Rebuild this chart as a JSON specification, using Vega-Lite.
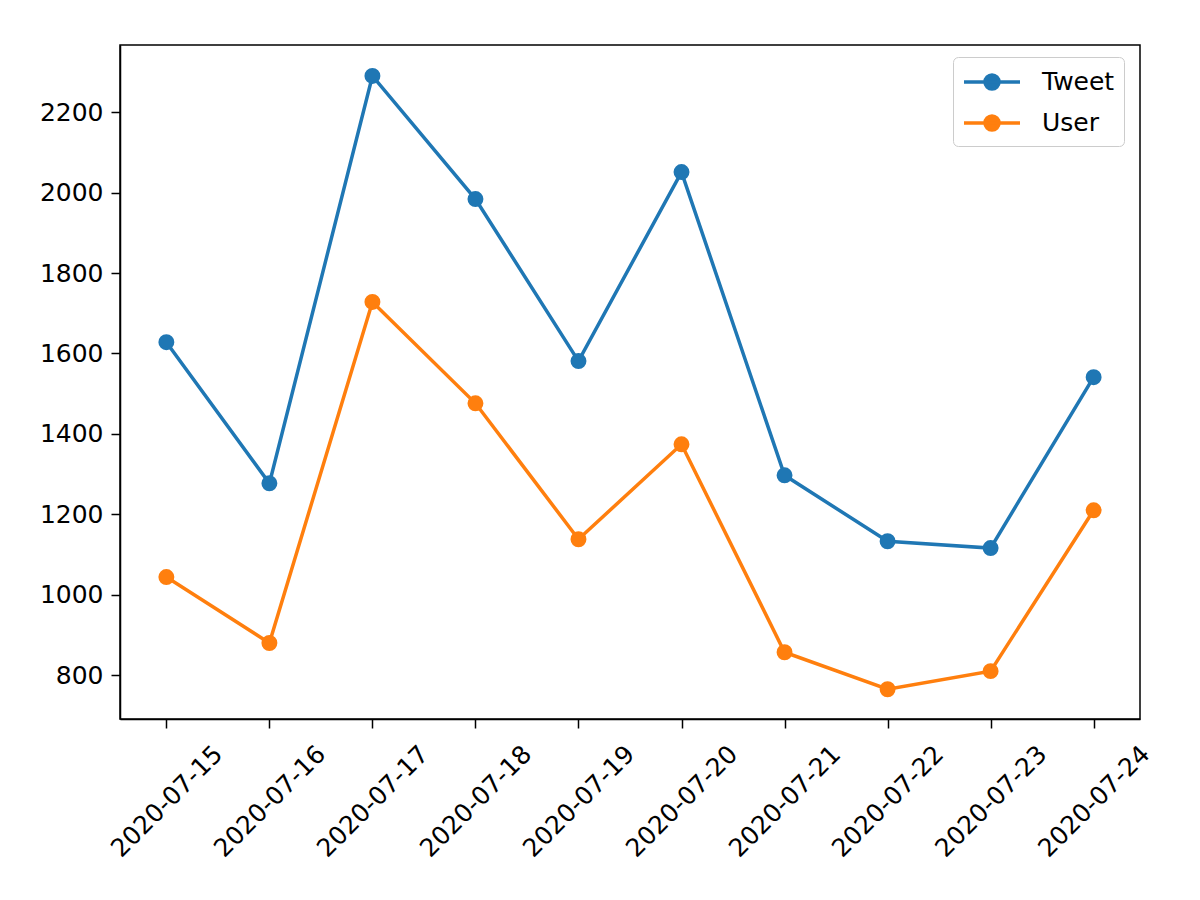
{
  "$schema": "https://vega.github.io/schema/vega-lite/v6.json",
  "width": 1020,
  "height": 674,
  "autosize": {"type": "none"},
  "padding": {"left": 120, "top": 45, "right": 60, "bottom": 181},
  "background": "white",
  "config": {
    "font": "DejaVu Sans",
    "view": {"stroke": "black", "strokeWidth": 1.5},
    "axis": {"grid": false, "domainColor": "black", "domainWidth": 1.5, "tickColor": "black", "tickWidth": 1.5, "tickSize": 9, "labelFontSize": 25, "labelColor": "black", "labelFont": "DejaVu Sans", "title": null}
  },
  "data": {
    "values": [
      {"date": "2020-07-15", "series": "Tweet", "value": 1628},
      {"date": "2020-07-16", "series": "Tweet", "value": 1277},
      {"date": "2020-07-17", "series": "Tweet", "value": 2290},
      {"date": "2020-07-18", "series": "Tweet", "value": 1984},
      {"date": "2020-07-19", "series": "Tweet", "value": 1581},
      {"date": "2020-07-20", "series": "Tweet", "value": 2051},
      {"date": "2020-07-21", "series": "Tweet", "value": 1297},
      {"date": "2020-07-22", "series": "Tweet", "value": 1133},
      {"date": "2020-07-23", "series": "Tweet", "value": 1116},
      {"date": "2020-07-24", "series": "Tweet", "value": 1541},
      {"date": "2020-07-15", "series": "User", "value": 1044},
      {"date": "2020-07-16", "series": "User", "value": 880},
      {"date": "2020-07-17", "series": "User", "value": 1728},
      {"date": "2020-07-18", "series": "User", "value": 1476},
      {"date": "2020-07-19", "series": "User", "value": 1138},
      {"date": "2020-07-20", "series": "User", "value": 1374},
      {"date": "2020-07-21", "series": "User", "value": 857},
      {"date": "2020-07-22", "series": "User", "value": 765},
      {"date": "2020-07-23", "series": "User", "value": 810},
      {"date": "2020-07-24", "series": "User", "value": 1210}
    ]
  },
  "mark": {"type": "line", "strokeWidth": 3.5, "point": {"filled": true, "size": 254, "opacity": 1}},
  "encoding": {
    "x": {
      "field": "date", "type": "ordinal",
      "scale": {"type": "point", "padding": 0.45},
      "axis": {"labelAngle": -45, "labelAlign": "center", "labelBaseline": "middle", "labelPadding": 73}
    },
    "y": {
      "field": "value", "type": "quantitative",
      "scale": {"domain": [691, 2367], "zero": false, "nice": false},
      "axis": {"values": [800, 1000, 1200, 1400, 1600, 1800, 2000, 2200], "format": "d", "labelPadding": 8}
    },
    "color": {
      "field": "series", "type": "nominal",
      "scale": {"domain": ["Tweet", "User"], "range": ["#1f77b4", "#ff7f0e"]},
      "legend": {
        "title": null,
        "orient": "none",
        "legendX": 833,
        "legendY": 12,
        "padding": 9,
        "rowPadding": 11,
        "strokeColor": "#cccccc",
        "fillColor": "white",
        "cornerRadius": 5,
        "labelFontSize": 25,
        "labelColor": "black",
        "labelOffset": 48,
        "symbolType": "M-1,0H3M0.5,0A0.5,0.5 0 1,0 1.5,0A0.5,0.5 0 1,0 0.5,0Z",
        "symbolSize": 784,
        "symbolStrokeWidth": 3.5,
        "encode": {
          "symbols": {"update": {"fill": {"scale": "color", "field": "value"}, "stroke": {"scale": "color", "field": "value"}, "opacity": {"value": 1}}}
        }
      }
    }
  }
}
